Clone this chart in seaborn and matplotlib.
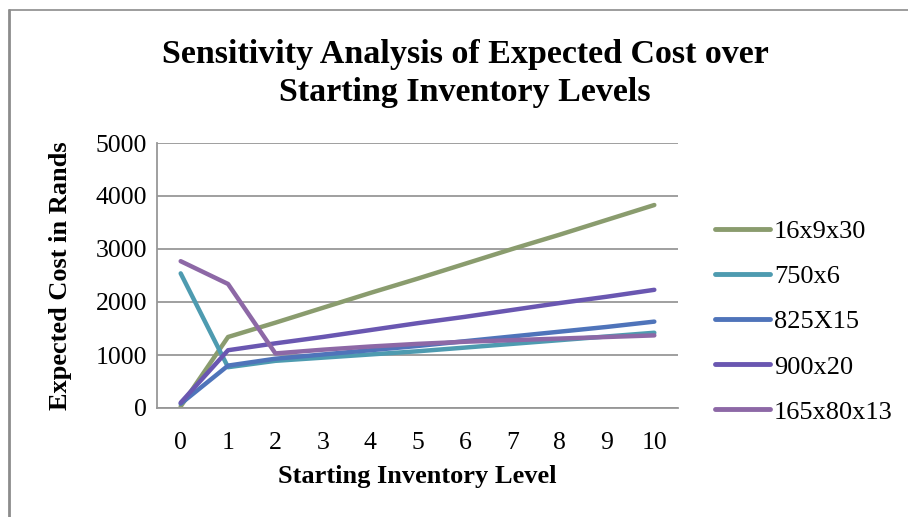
import matplotlib
matplotlib.use("Agg")
import matplotlib.pyplot as plt
import seaborn as sns
import pandas as pd
from matplotlib.lines import Line2D

levels = [0, 1, 2, 3, 4, 5, 6, 7, 8, 9, 10]
s_16x9x30 = [30, 1340, 1610, 1890, 2170, 2440, 2720, 3000, 3270, 3550, 3830]
s_750x6 = [2540, 770, 890, 950, 1010, 1070, 1140, 1210, 1280, 1350, 1420]
s_825X15 = [80, 800, 930, 1010, 1090, 1170, 1260, 1350, 1440, 1530, 1630]
s_900x20 = [100, 1090, 1220, 1340, 1470, 1600, 1720, 1850, 1980, 2100, 2230]
s_165x80x13 = [2770, 2340, 1030, 1100, 1160, 1210, 1250, 1280, 1310, 1340, 1370]

series = {
    "16x9x30": s_16x9x30,
    "750x6": s_750x6,
    "825X15": s_825X15,
    "900x20": s_900x20,
    "165x80x13": s_165x80x13,
}
colors = ["#8A9C6E", "#4E9BB0", "#4F74BA", "#6A57B1", "#8D68A6"]

rows = []
for name, vals in series.items():
    for x, v in zip(levels, vals):
        rows.append({"Level": x, "Cost": v, "Series": name})
df = pd.DataFrame(rows)

sns.set_theme(style="white")
plt.rcParams["font.family"] = ["Liberation Serif", "DejaVu Serif"]
plt.rcParams["text.color"] = "black"
plt.rcParams["axes.labelcolor"] = "black"

fig = plt.figure(figsize=(9.08, 5.17), dpi=100)
ax = fig.add_axes([157 / 908, 1 - 408 / 517, 521 / 908, 265 / 517])

sns.lineplot(data=df, x="Level", y="Cost", hue="Series", palette=colors,
             linewidth=3.2, ax=ax, legend=True, solid_capstyle="round")

ax.set_xlim(-0.5, 10.5)
ax.set_ylim(0, 5000)
ax.set_yticks([0, 1000, 2000, 3000, 4000, 5000])
ax.set_xticks(levels)
ax.set_xticklabels([str(x) for x in levels])
ax.yaxis.grid(True, color="#979797", linewidth=1.3)
ax.xaxis.grid(False)
ax.set_axisbelow(True)
for side in ["top", "right"]:
    ax.spines[side].set_visible(False)
for side in ["left", "bottom"]:
    ax.spines[side].set_color("#979797")
    ax.spines[side].set_linewidth(1.3)
ax.tick_params(axis="both", labelsize=18.5, colors="black", length=0)
ax.tick_params(axis="y", pad=7)
ax.tick_params(axis="x", pad=17)

ax.set_xlabel("Starting Inventory Level", fontsize=19, fontweight="bold", labelpad=8, color="black")
ax.set_ylabel("Expected Cost in Rands", fontsize=19, fontweight="bold", labelpad=17, color="black")

fig.suptitle("Sensitivity Analysis of Expected Cost over\nStarting Inventory Levels",
             x=0.512, y=0.925, fontsize=24.5, fontweight="bold", linespacing=1.3, color="black")

leg = ax.legend(loc="upper left", bbox_to_anchor=(1.025, 0.80), frameon=False,
                fontsize=19, handlelength=2.1, handletextpad=0.15, labelspacing=0.82)
for text in leg.get_texts():
    text.set_color("black")
for line in leg.get_lines():
    line.set_linewidth(3.5)

# partial figure frame (top and left edges, as in the reference)
fig.add_artist(Line2D([9 / 908, 9 / 908], [0, 1 - 10 / 517], transform=fig.transFigure,
                      color="#8c8c8c", linewidth=2))
fig.add_artist(Line2D([9 / 908, 1], [1 - 10 / 517, 1 - 10 / 517], transform=fig.transFigure,
                      color="#8c8c8c", linewidth=1.2))

fig.savefig("out.png", dpi=100)
